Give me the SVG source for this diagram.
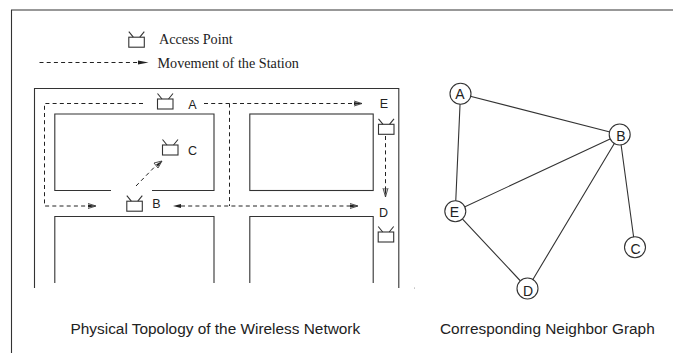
<svg xmlns="http://www.w3.org/2000/svg" width="673" height="353" viewBox="0 0 673 353">
<style>
.l{fill:none;stroke:#333;stroke-width:1.1}
.d{fill:none;stroke:#222;stroke-width:1;stroke-dasharray:4 3.2}
.ap{fill:#fff;stroke:#333;stroke-width:1.1}
.h{fill:none;stroke:#222;stroke-width:.8}
.f{fill:#222;stroke:none}
.s{font:12.500px "Liberation Sans",Arial,sans-serif;fill:#222;text-anchor:middle}
.g{font:14px "Liberation Sans",Arial,sans-serif;fill:#222;text-anchor:middle}
.t{font:14.200px "Liberation Serif","Times New Roman",serif;fill:#222}
.c{font:15.400px "Liberation Sans",Arial,sans-serif;fill:#222}
.n{fill:#fff;stroke:#333;stroke-width:1.1}
.e{fill:none;stroke:#333;stroke-width:1.1}
</style>
<defs>
<g id="tv"><rect class="ap" x="0" y="5.500" width="15.500" height="10"/><path class="l" d="M0 0L4.500 5.500M15.500 0L11 5.500"/></g>
</defs>
<g id="frame"><path class="l" d="M11.500 353V10H673"/></g>
<g id="building">
<path class="l" d="M34.500 288V88.500H398.800V288"/>
<path class="l" d="M111 190.500H54.800V114H214V190.500H152"/>
<rect class="l" x="249.800" y="114" width="123.400" height="76.500"/>
<path class="l" d="M54.800 283V216.500H214V283"/>
<path class="l" d="M249.800 283V216.500H373.200V283"/>
<circle class="f" cx="414.500" cy="288" r=".4"/>
</g>
<g id="connectors">
<path class="d" d="M143 103.500H44.500V206H88"/>
<path class="h" d="M88 203.500L96 206L88 208.500"/><path class="f" d="M88 204.500L96 206L88 207.500Z"/>
<path class="d" d="M204 103.500H354"/>
<path class="h" d="M354 101L362 103.500L354 106"/><path class="f" d="M354 102L362 103.500L354 105Z"/>
<path class="d" d="M229.500 103.500V206"/>
<path class="d" d="M181 206H350"/>
<path class="f" d="M181 204L173 206L181 208Z"/>
<path class="h" d="M350 203.500L358 206L350 208.500"/><path class="f" d="M350 204.500L358 206L350 207.500Z"/>
<path class="d" d="M136 186L155 166.500"/>
<path class="h" d="M154 163L162 161L158 168Z"/>
<path class="f" d="M156 164.500L162 161L158 166.500Z"/>
<path class="d" d="M385.500 136V189"/>
<path class="h" d="M383 188L385.500 197L388 188"/><path class="f" d="M384.500 188L385.500 197L386.500 188Z"/>
<path class="d" d="M39.500 62.500H138"/>
<path class="f" d="M138 60.500L148.500 62.500L138 64.500Z"/>
<path class="e" d="M460.500 93.700L619.700 134.500M460.500 93.700L455.300 211.300M619.700 134.500L455.300 211.300M619.700 134.500L527.500 288.500M619.700 134.500L635 247.200M455.300 211.300L527.500 288.500"/>
</g>
<g id="legend">
<use href="#tv" x="128.800" y="31.700"/>
<text class="t" x="159" y="44">Access Point</text>
<text class="t" x="157.500" y="67.700">Movement of the Station</text>
</g>
<g id="ap-a"><use href="#tv" x="157.500" y="93.500"/><text class="s" x="192.500" y="108.500">A</text></g>
<g id="ap-c"><use href="#tv" x="162.500" y="139.500"/><text class="s" x="192.500" y="155">C</text></g>
<g id="ap-b"><use href="#tv" x="126.800" y="195.700"/><text class="s" x="156.500" y="208">B</text></g>
<g id="ap-e"><use href="#tv" x="378.500" y="118.800"/><text class="s" x="384" y="108">E</text></g>
<g id="ap-d"><use href="#tv" x="378.200" y="226.500"/><text class="s" x="383.500" y="217">D</text></g>
<g id="node-a"><circle class="n" cx="460.500" cy="93.700" r="10.500"/><text class="g" x="460" y="99.300">A</text></g>
<g id="node-b"><circle class="n" cx="619.700" cy="134.500" r="10.500"/><text class="g" x="621" y="141">B</text></g>
<g id="node-c"><circle class="n" cx="635" cy="247.200" r="10.500"/><text class="g" x="635.500" y="254">C</text></g>
<g id="node-d"><circle class="n" cx="527.500" cy="288.500" r="10.500"/><text class="g" x="528" y="296">D</text></g>
<g id="node-e"><circle class="n" cx="455.300" cy="211.300" r="10.500"/><text class="g" x="454.500" y="216.700">E</text></g>
<text class="c" x="70.500" y="334">Physical Topology of the Wireless Network</text>
<text class="c" x="440" y="334">Corresponding Neighbor Graph</text>
</svg>
